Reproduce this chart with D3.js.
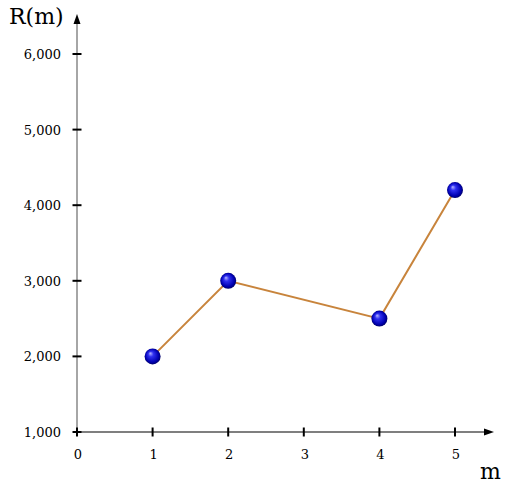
<!DOCTYPE html>
<html lang="en">
<head>
<meta charset="UTF-8">
<title>R(m)</title>
<script src="https://cdn.jsdelivr.net/npm/d3@7"></script>
<style>
  body { margin: 0; background: #fff; }
  text { font-family: "DejaVu Serif", serif; }
</style>
</head>
<body>
<script>
    // data
    const mValues = [1, 2, 4, 5];
    const rValues = [2000, 3000, 2500, 4200];
    const xTicks = [0, 1, 2, 3, 4, 5];
    const yTicks = [1000, 2000, 3000, 4000, 5000, 6000];

    const w = 505, h = 485;
    const x0 = 77, x1 = 455, y0 = 432, y1 = 54;

    const xScale = d3.scaleLinear().domain([0, 5]).range([x0, x1]);
    const yScale = d3.scaleLinear().domain([1000, 6000]).range([y0, y1]);

    const svg = d3.select("body").append("svg")
        .attr("width", w).attr("height", h);

    const defs = svg.append("defs");
    const grad = defs.append("radialGradient")
        .attr("id", "ball").attr("cx", "50%").attr("cy", "50%").attr("r", "55%")
        .attr("fx", "35%").attr("fy", "30%");
    grad.append("stop").attr("offset", "0%").attr("stop-color", "#b8b8ff");
    grad.append("stop").attr("offset", "30%").attr("stop-color", "#3030f0");
    grad.append("stop").attr("offset", "75%").attr("stop-color", "#0000b0");
    grad.append("stop").attr("offset", "100%").attr("stop-color", "#000050");

    defs.append("marker").attr("id", "arrow")
        .attr("viewBox", "0 0 10 10").attr("refX", 0).attr("refY", 5)
        .attr("markerWidth", 10).attr("markerHeight", 10)
        .attr("markerUnits", "userSpaceOnUse").attr("orient", "auto")
        .append("path").attr("d", "M0,1.5 L10,5 L0,8.5 Z").attr("fill", "#000");

    // axes
    svg.append("line")
        .attr("x1", x0).attr("y1", y0).attr("x2", x0).attr("y2", 24)
        .attr("stroke", "#888").attr("stroke-width", 1.5)
        .attr("marker-end", "url(#arrow)");
    svg.append("line")
        .attr("x1", x0).attr("y1", y0).attr("x2", 484).attr("y2", y0)
        .attr("stroke", "#000").attr("stroke-width", 1.2)
        .attr("marker-end", "url(#arrow)");

    // ticks
    svg.selectAll(".xt").data(xTicks).enter().append("line")
        .attr("x1", d => xScale(d)).attr("x2", d => xScale(d))
        .attr("y1", y0 - 4.5).attr("y2", y0 + 4.5)
        .attr("stroke", "#000").attr("stroke-width", 2);
    svg.selectAll(".yt").data(yTicks).enter().append("line")
        .attr("x1", x0 - 4.5).attr("x2", x0 + 4.5)
        .attr("y1", d => yScale(d)).attr("y2", d => yScale(d))
        .attr("stroke", "#000").attr("stroke-width", 2);

    svg.selectAll(".xl").data(xTicks).enter().append("text")
        .attr("x", d => xScale(d) + 1).attr("y", y0 + 27)
        .attr("text-anchor", "middle").attr("font-size", "13px")
        .text(d => d);
    svg.selectAll(".yl").data(yTicks).enter().append("text")
        .attr("x", x0 - 16).attr("y", d => yScale(d) + 5)
        .attr("text-anchor", "end").attr("font-size", "13px")
        .text(d => d3.format(",")(d));

    svg.append("text").attr("x", 9).attr("y", 24)
        .attr("font-size", "22px").text("R(m)");
    svg.append("text").attr("x", 480).attr("y", 479)
        .attr("font-size", "22px").text("m");

    // line + points
    const pts = mValues.map((m, i) => [m, rValues[i]]);
    svg.append("path").datum(pts)
        .attr("d", d3.line().x(d => xScale(d[0])).y(d => yScale(d[1])))
        .attr("fill", "none").attr("stroke", "#c8843c").attr("stroke-width", 2);

    svg.selectAll("circle").data(pts).enter().append("circle")
        .attr("cx", d => xScale(d[0])).attr("cy", d => yScale(d[1]))
        .attr("r", 8).attr("fill", "url(#ball)");
</script>
</body>
</html>
